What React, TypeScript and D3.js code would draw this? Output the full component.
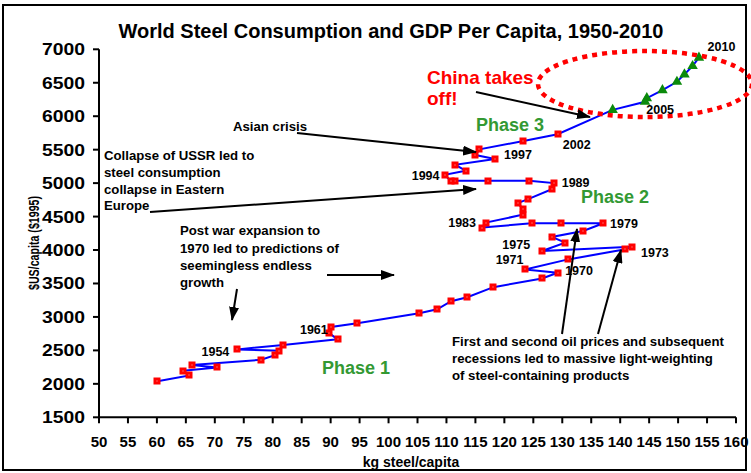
import * as d3 from "d3";

// world steel use vs GDP, one point per marker
const steel = [60.1, 65.6, 64.5, 70.4, 66.0, 78.0, 80.4, 81.1, 73.9, 81.8, 91.2, 89.8, 90.1, 94.6, 105.3, 108.4, 110.8, 113.6, 118.1, 126.5, 129.2, 123.6, 131.0, 140.9, 142.0, 126.5, 130.5, 128.2, 133.6, 137.1, 129.8, 124.7, 116.1, 116.8, 123.3, 123.3, 122.3, 124.1, 128.2, 128.5, 124.3, 117.1, 111.5, 110.8, 109.7, 113.3, 111.5, 118.4, 115.0, 115.7, 123.3, 129.2];
const gdp = [2040, 2125, 2195, 2245, 2280, 2360, 2430, 2495, 2515, 2580, 2665, 2755, 2850, 2905, 3055, 3115, 3235, 3295, 3445, 3575, 3660, 3710, 3860, 4010, 4050, 3985, 4110, 4195, 4285, 4400, 4400, 4400, 4335, 4410, 4530, 4610, 4700, 4760, 4910, 5000, 5035, 5035, 5035, 5030, 5125, 5185, 5275, 5360, 5420, 5505, 5630, 5730];

// 2003-2010, green triangles
const steelChina = [138.7, 144.3, 144.6, 147.3, 149.8, 151.1, 152.5, 153.6];
const gdpChina = [6095, 6215, 6270, 6390, 6515, 6625, 6750, 6875];

const yearLabels = ["1954", "1961", "1970", "1971", "1973", "1975", "1979", "1983", "1989", "1994", "1997", "2002", "2005", "2010"];
const yearLabelSteel = [67.7, 84.7, 130.5, 118.5, 143.6, 119.65, 138.25, 110.3, 129.9, 104.0, 119.95, 130.1, 144.5, 155.1];
const yearLabelGdp = [2480, 2805, 3701, 3851, 3970, 4090, 4400, 4410, 5005, 5120, 5435, 5580, 6093, 7049];

const xTicks = d3.range(50, 161, 5);
const yTicks = d3.range(1500, 7001, 500);

const FONT = "'Liberation Sans', Arial, sans-serif";

function Arrow({ x1, y1, x2, y2 }: { x1: number; y1: number; x2: number; y2: number }) {
  return (
    <line x1={x1} y1={y1} x2={x2} y2={y2} stroke="#000" strokeWidth={2} markerEnd="url(#head)" />
  );
}

export default function App() {
  const W = 751;
  const H = 473;

  const x = d3.scaleLinear().domain([50, 160]).range([99, 736]);
  const y = d3.scaleLinear().domain([1500, 7000]).range([417.3, 49.3]);

  const pts = steel.map((s, i) => [s, gdp[i]] as [number, number]);
  const chinaPts = steelChina.map((s, i) => [s, gdpChina[i]] as [number, number]);

  const line = d3
    .line<[number, number]>()
    .x((d) => x(d[0]))
    .y((d) => y(d[1]));

  const tri = d3.symbol(d3.symbolTriangle, 48)();

  return (
    <svg
      width={W}
      height={H}
      style={{ position: "absolute", left: 0, top: 0, background: "#fff" }}
      fontFamily={FONT}
      fontWeight="bold"
    >
      <defs>
        <marker id="head" markerUnits="userSpaceOnUse" markerWidth={14} markerHeight={10} refX={13} refY={5} orient="auto">
          <path d="M0,0 L14,5 L0,10 z" fill="#000" />
        </marker>
      </defs>

      <rect x={3} y={5} width={743} height={465} fill="none" stroke="#000" strokeWidth={2} />

      <text x={391} y={38} textAnchor="middle" fontSize={20}>
        World Steel Consumption and GDP Per Capita, 1950-2010
      </text>

      {/* axes */}
      <line x1={x(50)} x2={x(50)} y1={y(7000)} y2={y(1500)} stroke="#000" strokeWidth={2} />
      <line x1={x(50)} x2={x(160)} y1={y(1500)} y2={y(1500)} stroke="#000" strokeWidth={2} />
      {yTicks.map((t) => (
        <g key={t}>
          <line x1={x(50) - 6} x2={x(50)} y1={y(t)} y2={y(t)} stroke="#000" strokeWidth={2} />
          <text x={85} y={y(t) + 6} textAnchor="end" fontSize={16.5} textLength={43} lengthAdjust="spacingAndGlyphs">
            {t}
          </text>
        </g>
      ))}
      {xTicks.map((t) => (
        <g key={t}>
          <line x1={x(t)} x2={x(t)} y1={y(1500)} y2={y(1500) + 6} stroke="#000" strokeWidth={2} />
          <text x={x(t)} y={447} textAnchor="middle" fontSize={15}>
            {t}
          </text>
        </g>
      ))}
      <text x={411} y={467} textAnchor="middle" fontSize={14}>
        kg steel/capita
      </text>
      <text
        transform="translate(39,243) rotate(-90)"
        textAnchor="middle"
        fontSize={14}
        textLength={94}
        lengthAdjust="spacingAndGlyphs"
      >
        $US/capita ($1995)
      </text>

      {/* series */}
      <path d={line([...pts, ...chinaPts]) ?? ""} fill="none" stroke="#0000ff" strokeWidth={2} />
      {pts.map((d, i) => (
        <g key={i} transform={`translate(${Math.round(x(d[0]))},${Math.round(y(d[1]))})`}>
          <rect x={-3.5} y={-3.5} width={7} height={7} fill="#ff0000" />
          <rect x={-0.5} y={-0.5} width={1} height={1} fill="#ffb0b0" />
        </g>
      ))}
      {chinaPts.map((d, i) => (
        <path key={i} d={tri} transform={`translate(${x(d[0])},${y(d[1])})`} fill="#0b8a0b" />
      ))}

      <ellipse cx={645} cy={84} rx={107} ry={33} fill="none" stroke="#ff0000" strokeWidth={4.5} strokeDasharray="5 5" />

      {/* year labels */}
      {yearLabels.map((t, i) => (
        <text key={t} x={x(yearLabelSteel[i])} y={y(yearLabelGdp[i]) + 4.5} fontSize={12.5}>
          {t}
        </text>
      ))}

      {/* phases */}
      <g fill="#339933" fontSize={18}>
        <text x={322} y={374}>Phase 1</text>
        <text x={581} y={203}>Phase 2</text>
        <text x={476} y={131}>Phase 3</text>
      </g>
      <g fill="#ff0000" fontSize={19}>
        <text x={427} y={84}>China takes</text>
        <text x={427} y={105}>off!</text>
      </g>

      {/* annotations */}
      <g fontSize={13.2}>
        <text x={233} y={131}>Asian crisis</text>
        <text x={104}>
          <tspan x={104} y={160}>Collapse of USSR led to</tspan>
          <tspan x={104} y={177}>steel consumption</tspan>
          <tspan x={104} y={193.5}>collapse in Eastern</tspan>
          <tspan x={104} y={210}>Europe</tspan>
        </text>
        <text>
          <tspan x={180} y={235}>Post war expansion to</tspan>
          <tspan x={180} y={252.5}>1970 led to predictions of</tspan>
          <tspan x={180} y={270}>seemingless endless</tspan>
          <tspan x={180} y={287}>growth</tspan>
        </text>
        <text>
          <tspan x={452} y={346}>First and second oil prices and subsequent</tspan>
          <tspan x={452} y={363}>recessions led to massive light-weighting</tspan>
          <tspan x={452} y={380}>of steel-containing products</tspan>
        </text>
      </g>

      <Arrow x1={297} y1={133} x2={476} y2={152} />
      <Arrow x1={150} y1={212} x2={476} y2={189} />
      <Arrow x1={327} y1={275} x2={394} y2={275} />
      <Arrow x1={237} y1={289} x2={232} y2={320} />
      <Arrow x1={476} y1={92} x2={590} y2={117} />
      <Arrow x1={562} y1={334} x2={577} y2={229} />
      <Arrow x1={598} y1={334} x2={621} y2={250} />
    </svg>
  );
}
